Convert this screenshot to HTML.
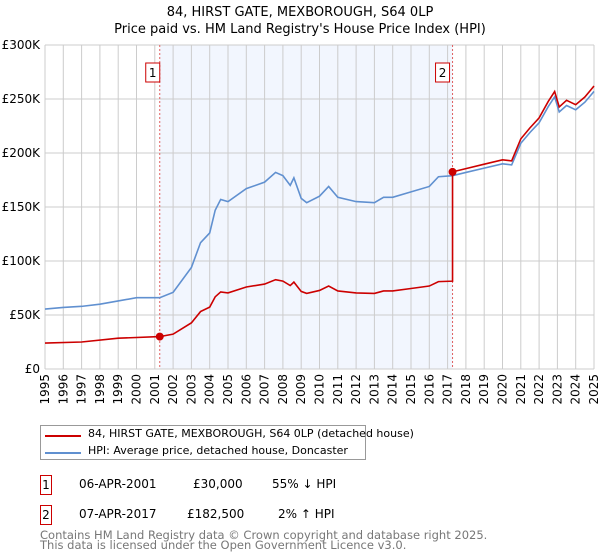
<!DOCTYPE html>
<html><head><meta charset="utf-8"><style>
body{margin:0;background:#fff;font-family:"DejaVu Sans","Liberation Sans",sans-serif;}
#wrap{position:relative;width:600px;height:560px;overflow:hidden}
.t{position:absolute;font-size:12px;color:#000;white-space:nowrap}
</style></head><body><div id="wrap">
<div class="t" style="left:0;width:600px;text-align:center;top:4px;font-size:13px;line-height:17px">84, HIRST GATE, MEXBOROUGH, S64 0LP<br>Price paid vs. HM Land Registry's House Price Index (HPI)</div>
<svg id="chart" width="600" height="420" style="position:absolute;left:0;top:0"></svg>
<div style="position:absolute;left:40px;top:425px;width:326px;height:35px;border:1px solid #999;box-sizing:border-box">
<div style="position:absolute;left:4px;top:9px;width:36px;height:2px;background:#cc0000"></div>
<div class="t" style="left:47px;top:1px;font-size:11px">84, HIRST GATE, MEXBOROUGH, S64 0LP (detached house)</div>
<div style="position:absolute;left:4px;top:26px;width:36px;height:2px;background:#6090d0"></div>
<div class="t" style="left:47px;top:18px;font-size:11px">HPI: Average price, detached house, Doncaster</div>
</div>
<div>
<div class="t" style="left:40px;top:475px;width:10px;height:18px;border:1px solid #c00;text-align:center;line-height:18px">1</div>
<div class="t" style="left:79px;top:477px">06-APR-2001</div>
<div class="t" style="left:193px;top:477px">£30,000</div>
<div class="t" style="left:272px;top:477px">55% ↓ HPI</div>
</div>
<div>
<div class="t" style="left:40px;top:505px;width:10px;height:18px;border:1px solid #c00;text-align:center;line-height:18px">2</div>
<div class="t" style="left:79px;top:507px">07-APR-2017</div>
<div class="t" style="left:187px;top:507px">£182,500</div>
<div class="t" style="left:278px;top:507px">2% ↑ HPI</div>
</div>
<div class="t" style="left:40px;top:530px;color:#777;font-size:11.5px;line-height:10px">Contains HM Land Registry data © Crown copyright and database right 2025.<br>This data is licensed under the Open Government Licence v3.0.</div>
</div>
<script>
const hpiYears=[1995,1996,1997,1998,1999,2000,2001.27,2002,2003,2003.5,2004,2004.3,2004.6,2005,2006,2007,2007.6,2008,2008.4,2008.6,2009,2009.3,2010,2010.5,2011,2012,2013,2013.5,2014,2015,2016,2016.5,2017.27,2018,2019,2020,2020.5,2021,2021.5,2022,2022.5,2022.85,2023.1,2023.5,2024,2024.5,2024.9,2025];
const hpiValues=[55.5,57,58,60,63,66,66,71,94,117,126,147,157,155,167,173,182,179,170,177,158,154,160,169,159,155,154,159,159,164,169,178,179,182,186,190,189,209,219,228,243,252,238,244,240,247,255,257];
const preYears=[1995,1997,1999,2001.27];
const preValues=[24,25,28.5,30];
const saleYears=[2001.27,2017.27];
const salePrices=[30,182.5];
const yTicks=[0,50,100,150,200,250,300];
const yTickLabels=["£0","£50K","£100K","£150K","£200K","£250K","£300K"];
const ns="http://www.w3.org/2000/svg",svg=document.getElementById('chart');
const X0=45,X1=594,Y0=369,Y1=45;
const xs=y=>X0+(y-1995)/30*(X1-X0), ys=v=>Y0-v/300*(Y0-Y1);
function mk(t,a){const e=document.createElementNS(ns,t);for(const k in a)e.setAttribute(k,a[k]);svg.appendChild(e);return e;}
let r=mk('rect',{x:xs(saleYears[0]),y:Y1,width:xs(saleYears[1])-xs(saleYears[0]),height:Y0-Y1,fill:'#f2f6fe'});


for(let y=1995;y<=2025;y++){const l=mk('line',{x1:xs(y),x2:xs(y),y1:Y1,y2:Y0,stroke:'#ccc','stroke-width':1});


const tx=xs(y)+4,ty=374;
const t=mk('text',{x:tx,y:ty,'text-anchor':'end','font-size':12,'font-family':'DejaVu Sans, sans-serif',transform:'rotate(-90 '+tx+' '+ty+')'});t.textContent=y;

}
yTicks.forEach((v,i)=>{const l=mk('line',{x1:X0,x2:X1,y1:ys(v),y2:ys(v),stroke:'#ccc','stroke-width':1});


const t=mk('text',{x:40,y:ys(v)+4,'text-anchor':'end','font-size':12,'font-family':'DejaVu Sans, sans-serif'});t.textContent=yTickLabels[i];

});
saleYears.forEach((y,i)=>{const l=mk('line',{x1:xs(y),x2:xs(y),y1:Y1,y2:Y0,stroke:'#e06060','stroke-dasharray':'2,2'});


const b=mk('rect',{x:xs(y)-14+(i?-3:0),y:63,width:14,height:19,fill:'#fff',stroke:'#c00'});


const t=mk('text',{x:xs(y)-7+(i?-3:0),y:77,'text-anchor':'middle','font-size':12,'font-family':'DejaVu Sans, sans-serif'});t.textContent=i+1;

});
const hpiAt=y=>{for(let i=1;i<hpiYears.length;i++)if(y<=hpiYears[i]){const f=(y-hpiYears[i-1])/(hpiYears[i]-hpiYears[i-1]);return hpiValues[i-1]+f*(hpiValues[i]-hpiValues[i-1]);}return hpiValues[hpiValues.length-1];};
let pts=hpiYears.map((y,i)=>xs(y)+','+ys(hpiValues[i])).join(' ');
let h=mk('polyline',{points:pts,fill:'none',stroke:'#6090d0','stroke-width':1.6});


let rp=preYears.map((y,i)=>[y,preValues[i]]);
hpiYears.forEach(y=>{if(y>saleYears[0]&&y<saleYears[1])rp.push([y,salePrices[0]*hpiAt(y)/hpiAt(saleYears[0])]);});
rp.push([saleYears[1],salePrices[0]*hpiAt(saleYears[1])/hpiAt(saleYears[0])]);
rp.push([saleYears[1],salePrices[1]]);
hpiYears.forEach(y=>{if(y>saleYears[1])rp.push([y,salePrices[1]*hpiAt(y)/hpiAt(saleYears[1])]);});
let p=mk('polyline',{points:rp.map(a=>xs(a[0])+','+ys(a[1])).join(' '),fill:'none',stroke:'#cc0000','stroke-width':1.6});


saleYears.forEach((y,i)=>{const c=mk('circle',{cx:xs(y),cy:ys(salePrices[i]),r:4,fill:'#cc0000'});

});
</script></body></html>
